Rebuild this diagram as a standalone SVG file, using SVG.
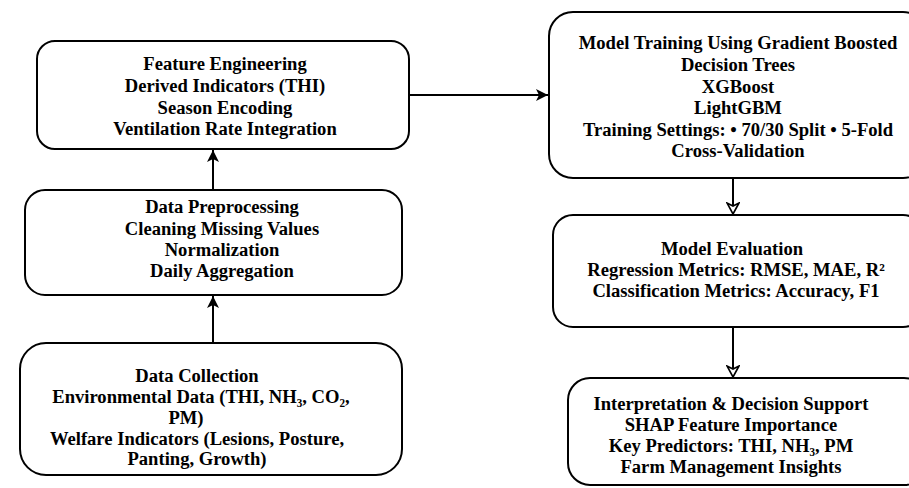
<svg xmlns="http://www.w3.org/2000/svg" width="909" height="488" viewBox="0 0 909 488">
<style>
.box{fill:#fff;stroke:#000;stroke-width:2}
.t{font-family:"Liberation Serif","Times New Roman",serif;font-weight:bold;font-size:18.6px;fill:#000;text-anchor:middle}
.c{stroke:#000;stroke-width:2;fill:none}
</style>
<defs>
<marker id="a" markerUnits="userSpaceOnUse" markerWidth="14" markerHeight="12" refX="12" refY="6" orient="auto">
<path d="M0,0 L12,6 L0,12 L3,6 z" fill="#000"/>
</marker>
<marker id="b" markerUnits="userSpaceOnUse" markerWidth="14" markerHeight="14" refX="12" refY="7" orient="auto">
<path d="M1,1 L12,7 L1,13 L4,7 z" fill="#fff" stroke="#000" stroke-width="1.6"/>
</marker>
</defs>
<g id="connectors">
<line class="c" x1="213" y1="343" x2="213" y2="296" marker-end="url(#a)"/>
<line class="c" x1="213" y1="190" x2="213" y2="150" marker-end="url(#a)"/>
<line class="c" x1="409" y1="95" x2="548" y2="95" marker-end="url(#a)"/>
<line class="c" x1="733" y1="178" x2="733" y2="214" marker-end="url(#b)"/>
<line class="c" x1="733" y1="327" x2="733" y2="377" marker-end="url(#b)"/>
</g>
<g id="feature-engineering">
<rect class="box" x="37" y="41" width="372" height="108" rx="18"/>
<text class="t" x="225" y="70">Feature Engineering</text>
<text class="t" x="225" y="92">Derived Indicators (THI)</text>
<text class="t" x="225" y="114">Season Encoding</text>
<text class="t" x="225" y="135">Ventilation Rate Integration</text>
</g>
<g id="data-preprocessing">
<rect class="box" x="25" y="190" width="377" height="105" rx="20"/>
<text class="t" x="222" y="213">Data Preprocessing</text>
<text class="t" x="222" y="235">Cleaning Missing Values</text>
<text class="t" x="222" y="256">Normalization</text>
<text class="t" x="222" y="277">Daily Aggregation</text>
</g>
<g id="data-collection">
<rect class="box" x="20" y="343" width="382" height="132" rx="26"/>
<text class="t" x="197" y="382">Data Collection</text>
<text class="t" x="201" y="403">Environmental Data (THI, NH₃, CO₂,</text>
<text class="t" x="186" y="424">PM)</text>
<text class="t" x="197" y="445">Welfare Indicators (Lesions, Posture,</text>
<text class="t" x="197" y="465">Panting, Growth)</text>
</g>
<g id="model-training">
<rect class="box" x="549" y="12" width="378" height="166" rx="24"/>
<text class="t" x="738" y="49">Model Training Using Gradient Boosted</text>
<text class="t" x="738" y="71">Decision Trees</text>
<text class="t" x="738" y="93">XGBoost</text>
<text class="t" x="738" y="114">LightGBM</text>
<text class="t" x="738" y="136">Training Settings: • 70/30 Split • 5-Fold</text>
<text class="t" x="738" y="157">Cross-Validation</text>
</g>
<g id="model-evaluation">
<rect class="box" x="553" y="215" width="370" height="112" rx="20"/>
<text class="t" x="732" y="255">Model Evaluation</text>
<text class="t" x="736" y="276">Regression Metrics: RMSE, MAE, R²</text>
<text class="t" x="736" y="297">Classification Metrics: Accuracy, F1</text>
</g>
<g id="interpretation">
<rect class="box" x="568" y="378" width="358" height="107" rx="22"/>
<text class="t" x="731" y="410">Interpretation &amp; Decision Support</text>
<text class="t" x="731" y="431">SHAP Feature Importance</text>
<text class="t" x="731" y="452">Key Predictors: THI, NH₃, PM</text>
<text class="t" x="731" y="473">Farm Management Insights</text>
</g>
</svg>
